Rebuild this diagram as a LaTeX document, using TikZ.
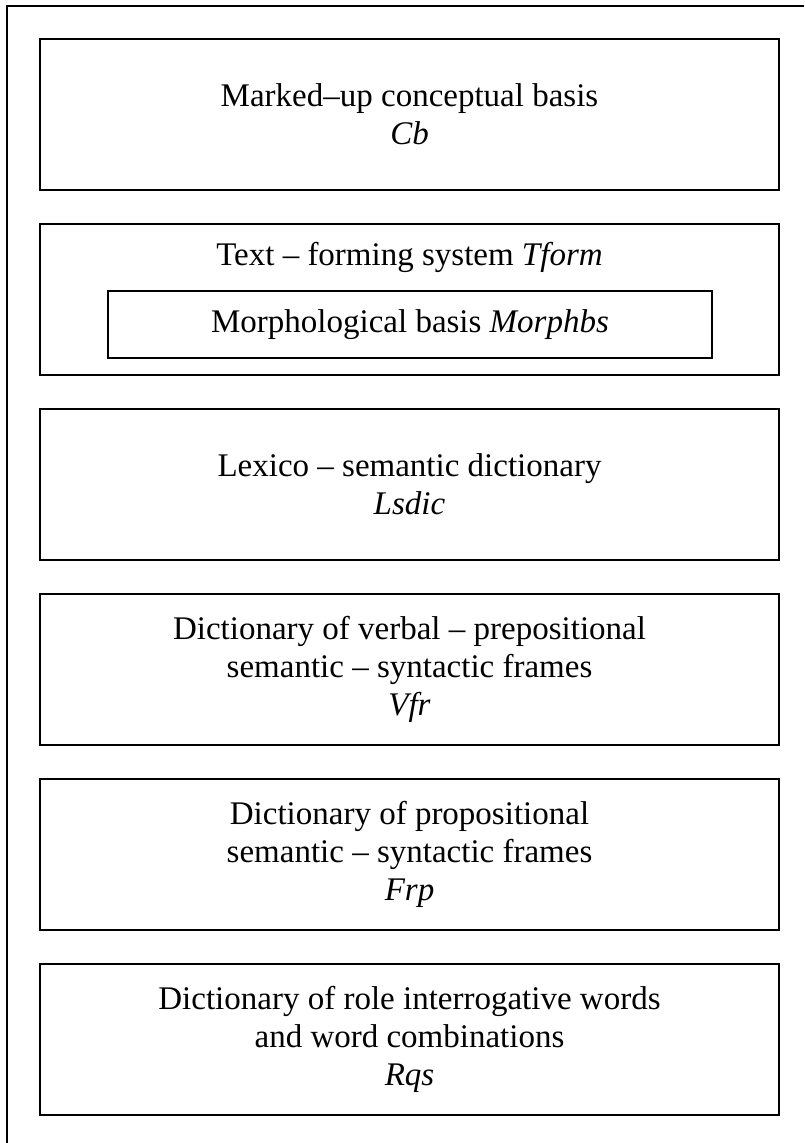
\documentclass[tikz,border=0pt]{standalone}
\usepackage{fontspec}
\setmainfont{Liberation Serif}
\usetikzlibrary{positioning}
\tikzset{
  blk/.style={draw, line width=.9pt, outer sep=0pt, minimum width=369.5pt, minimum height=75.5pt, align=center, inner sep=0pt},
  subblk/.style={draw, line width=.9pt, outer sep=0pt, minimum width=302pt, minimum height=33.5pt, inner sep=0pt}
}
\begin{document}
\begin{tikzpicture}[x=.5pt,y=-.5pt,font=\fontsize{16.5}{19}\selectfont,node distance=17pt]
\useasboundingbox (0,0) rectangle (804,1143);
% frame, only two sides are visible
\draw[line width=.95pt] (7,1143) -- (7,6) -- (804,6);
\node[blk] (cb) at (409.5,114.5) {Marked--up conceptual basis\\\textit{Cb}};
\node[blk, below=of cb] (tform) {};
\node[anchor=base] (tformtxt) at ([yshift=-21pt]tform.north) {Text -- forming system \textit{Tform}};
\node[subblk] (morph) at ([xshift=.25pt,yshift=-50.25pt]tform.north) {Morphological basis \textit{Morphbs}};
\node[blk, below=of tform] (lsdic) {Lexico -- semantic dictionary\\\textit{Lsdic}};
\node[blk, below=of lsdic] (vfr) {Dictionary of verbal -- prepositional\\semantic -- syntactic frames\\\textit{Vfr}};
\node[blk, below=of vfr] (frp) {Dictionary of propositional\\semantic -- syntactic frames\\\textit{Frp}};
\node[blk, below=of frp] (rqs) {Dictionary of role interrogative words\\and word combinations\\\textit{Rqs}};
\end{tikzpicture}
\end{document}
